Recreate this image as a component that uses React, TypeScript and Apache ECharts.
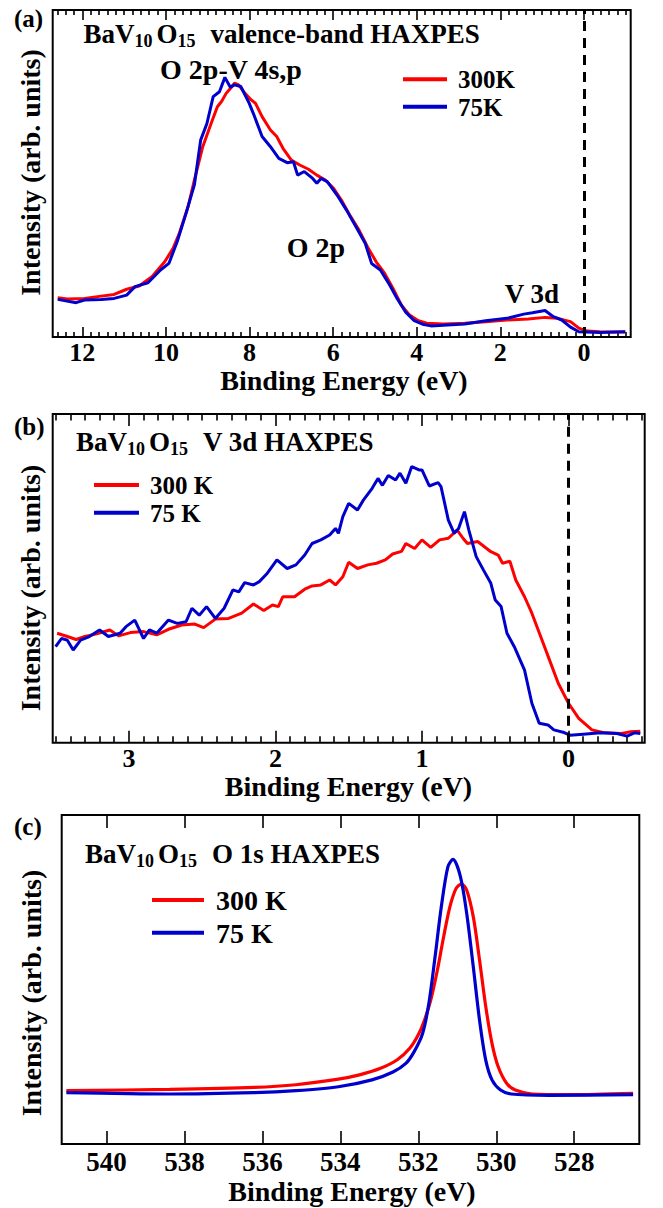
import React, { useEffect, useRef } from "react";
import * as echarts from "echarts";

const FONT = "'Liberation Serif', 'Times New Roman', Times, serif";
const RED = "#ff0000";
const BLUE = "#0000cc";

// ---------- Panel (a): valence-band HAXPES ----------
const aMajorTicks = [0, 2, 4, 6, 8, 10, 12];
const aEnergy300 = [12.59, 12.36, 11.95, 11.55, 11.24, 10.94, 10.64, 10.33, 10.03, 9.83, 9.68, 9.47, 9.32, 9.12, 8.92, 8.77, 8.67, 8.56, 8.46, 8.36, 8.26, 8.11, 7.96, 7.86, 7.7, 7.5, 7.35, 7.2, 7.0, 6.8, 6.59, 6.39, 6.19, 5.99, 5.78, 5.58, 5.38, 5.18, 4.97, 4.77, 4.57, 4.37, 4.17, 3.96, 3.76, 3.36, 2.85, 2.35, 1.84, 1.33, 0.93, 0.63, 0.32, 0.12, -0.08, -0.38, -0.99];
const aInt300 = [12.0, 11.6, 11.8, 12.5, 13.0, 14.6, 15.6, 18.5, 23.0, 27.1, 31.7, 39.9, 48.0, 58.2, 65.3, 70.4, 72.0, 74.5, 76.0, 77.6, 77.1, 74.5, 72.5, 71.5, 67.4, 63.3, 61.3, 57.7, 54.1, 52.6, 51.3, 49.5, 48.0, 45.5, 41.4, 36.8, 32.7, 27.6, 23.0, 19.5, 14.9, 9.8, 6.7, 5.0, 4.2, 4.0, 4.2, 4.7, 5.2, 5.5, 6.0, 5.7, 4.7, 2.7, 1.8, 1.6, 1.5];
const aEnergy75 = [12.59, 12.15, 11.95, 11.55, 11.24, 10.94, 10.74, 10.43, 10.13, 9.93, 9.73, 9.52, 9.32, 9.17, 9.02, 8.87, 8.72, 8.59, 8.46, 8.36, 8.21, 8.01, 7.91, 7.7, 7.5, 7.3, 7.1, 6.95, 6.85, 6.69, 6.49, 6.39, 6.29, 6.14, 5.88, 5.68, 5.43, 5.23, 5.08, 4.87, 4.67, 4.47, 4.27, 4.06, 3.86, 3.66, 3.26, 2.85, 2.35, 1.84, 1.44, 1.23, 0.93, 0.73, 0.53, 0.32, 0.12, -0.38, -0.99];
const aInt75 = [11.5, 10.5, 11.3, 11.5, 11.8, 12.8, 15.4, 16.6, 20.5, 22.5, 29.2, 37.8, 46.5, 60.2, 65.3, 73.5, 75.0, 79.4, 76.4, 77.1, 76.6, 71.5, 68.4, 61.3, 58.2, 54.6, 53.3, 53.6, 49.5, 50.6, 48.5, 47.0, 48.5, 47.5, 42.9, 38.8, 33.2, 28.6, 22.5, 20.5, 16.4, 11.8, 7.7, 5.0, 3.9, 3.4, 3.7, 4.0, 5.0, 5.7, 7.0, 7.4, 8.1, 6.2, 5.2, 3.0, 1.6, 1.4, 1.6];

// ---------- Panel (b): V 3d HAXPES ----------
const bMajorTicks = [0, 1, 2, 3];
const bEnergy300 = [3.49, 3.42, 3.36, 3.3, 3.22, 3.13, 3.07, 2.99, 2.9, 2.81, 2.73, 2.64, 2.55, 2.49, 2.41, 2.32, 2.23, 2.15, 2.08, 2.02, 1.98, 1.95, 1.87, 1.8, 1.75, 1.69, 1.63, 1.59, 1.54, 1.5, 1.44, 1.37, 1.31, 1.25, 1.2, 1.14, 1.11, 1.05, 1.0, 0.94, 0.88, 0.82, 0.76, 0.72, 0.69, 0.62, 0.53, 0.48, 0.45, 0.4, 0.36, 0.3, 0.25, 0.19, 0.13, 0.07, 0.0, -0.07, -0.16, -0.25, -0.36, -0.42, -0.49];
const bInt300 = [33.3, 32.3, 31.4, 32.3, 33.1, 34.3, 32.5, 33.5, 33.8, 32.8, 34.5, 35.8, 36.1, 35.0, 37.6, 37.8, 39.4, 42.2, 40.2, 41.9, 41.4, 44.4, 44.4, 46.7, 47.7, 48.0, 49.5, 48.0, 50.5, 54.9, 53.0, 54.1, 54.6, 55.6, 57.4, 58.2, 60.6, 59.1, 61.7, 59.4, 61.7, 62.2, 64.7, 62.2, 60.6, 61.2, 58.1, 57.1, 54.6, 55.2, 49.5, 44.4, 39.4, 32.3, 25.2, 18.1, 12.0, 7.4, 3.9, 3.0, 2.8, 3.3, 3.5];
const bEnergy75 = [3.5, 3.46, 3.42, 3.38, 3.33, 3.27, 3.2, 3.14, 3.06, 3.02, 2.96, 2.9, 2.86, 2.81, 2.73, 2.67, 2.61, 2.57, 2.52, 2.47, 2.41, 2.35, 2.29, 2.25, 2.21, 2.15, 2.11, 2.06, 1.99, 1.92, 1.86, 1.8, 1.75, 1.69, 1.63, 1.59, 1.57, 1.54, 1.5, 1.44, 1.4, 1.34, 1.3, 1.27, 1.23, 1.18, 1.15, 1.11, 1.07, 1.02, 1.0, 0.95, 0.89, 0.87, 0.82, 0.78, 0.75, 0.71, 0.68, 0.63, 0.58, 0.53, 0.5, 0.46, 0.42, 0.37, 0.3, 0.25, 0.2, 0.14, 0.1, 0.03, -0.01, -0.1, -0.22, -0.33, -0.4, -0.45, -0.49];
const bInt75 = [29.2, 31.7, 31.2, 28.2, 31.2, 32.3, 34.3, 32.3, 33.3, 35.3, 37.3, 31.7, 34.3, 33.3, 37.3, 36.3, 36.8, 40.9, 38.8, 41.4, 37.8, 40.9, 46.5, 45.9, 48.7, 48.0, 49.0, 51.3, 55.6, 53.0, 54.1, 57.1, 60.6, 61.7, 63.2, 65.2, 63.7, 68.8, 72.8, 70.8, 73.8, 77.4, 80.4, 78.3, 81.3, 79.9, 82.0, 78.9, 84.0, 83.0, 83.0, 78.1, 79.1, 77.9, 67.7, 63.7, 65.2, 70.3, 64.7, 56.6, 52.5, 48.5, 43.4, 41.4, 33.3, 29.2, 22.1, 12.0, 5.9, 5.4, 3.9, 3.1, 2.3, 2.6, 3.0, 2.8, 2.0, 3.0, 2.8];

// ---------- Panel (c): O 1s HAXPES ----------
const cMajorTicks = [528, 530, 532, 534, 536, 538, 540];
const cEnergy300 = [541.03, 538.38, 536.22, 535.14, 534.05, 533.51, 532.97, 532.54, 532.22, 532.0, 531.84, 531.68, 531.51, 531.35, 531.19, 531.03, 530.89, 530.76, 530.59, 530.43, 530.27, 530.11, 529.95, 529.73, 529.51, 529.08, 528.11, 526.49];
const cInt300 = [16.2, 16.6, 17.2, 18.0, 19.7, 21.0, 23.0, 25.6, 29.1, 33.2, 37.7, 43.8, 52.9, 63.0, 72.1, 77.7, 79.0, 77.2, 69.1, 56.0, 41.8, 30.6, 23.5, 18.4, 16.4, 15.2, 15.0, 15.4];
const cEnergy75 = [541.03, 538.38, 536.22, 535.14, 534.05, 533.19, 532.65, 532.32, 532.11, 531.89, 531.73, 531.57, 531.41, 531.24, 531.11, 530.92, 530.76, 530.59, 530.43, 530.27, 530.11, 529.89, 529.62, 528.65, 526.49];
const cInt75 = [15.6, 15.2, 15.6, 16.2, 17.4, 19.5, 21.9, 24.5, 28.0, 33.6, 42.7, 56.9, 72.1, 84.3, 86.5, 81.3, 70.2, 53.9, 37.7, 25.5, 19.5, 16.4, 15.2, 14.8, 15.0];

const legendNamesA = ["300K", "75K"];
const legendNamesBC = ["300 K", "75 K"];

function minorTicks(from: number, to: number, step: number, majors: number[]) {
  const out: number[] = [];
  const n = Math.round((to - from) / step);
  for (let i = 0; i <= n; i++) {
    const v = Math.round((from + i * step) * 1000) / 1000;
    if (!majors.some((m) => Math.abs(m - v) < 1e-6)) out.push(v);
  }
  return out;
}

const zip = (xs: number[], ys: number[]) => xs.map((x, i) => [x, ys[i]]);

function xAxesFor(
  grid: number, min: number, max: number, majors: number[], minors: number[],
  majorLen: number, minorLen: number, labelSize: number, labelMargin: number
) {
  const base = {
    gridIndex: grid, type: "value", inverse: true, min, max,
    axisLine: { show: false, onZero: false },
    splitLine: { show: false },
  };
  const tickStyle = { color: "#000", width: 1.6 };
  const label = {
    show: true, customValues: majors, fontSize: labelSize, fontWeight: "bold",
    fontFamily: FONT, color: "#000", margin: labelMargin, lineHeight: labelSize,
  };
  const axes: any[] = [
    { ...base, position: "bottom", axisTick: { show: true, inside: true, length: majorLen, lineStyle: tickStyle, customValues: majors }, axisLabel: label },
    { ...base, position: "top", axisTick: { show: true, inside: true, length: majorLen, lineStyle: tickStyle, customValues: majors }, axisLabel: { show: false } },
  ];
  if (minors.length) {
    axes.push({ ...base, position: "bottom", axisTick: { show: true, inside: true, length: minorLen, lineStyle: tickStyle, customValues: minors }, axisLabel: { show: false } });
    axes.push({ ...base, position: "top", axisTick: { show: true, inside: true, length: minorLen, lineStyle: tickStyle, customValues: minors }, axisLabel: { show: false } });
  }
  return axes;
}

const text = (x: number, y: number, t: string, size: number, extra: any = {}) => ({
  type: "text", x, y, silent: true,
  style: { text: t, fontSize: size, fontWeight: "bold", fontFamily: FONT, fill: "#000", align: extra.align || "left", verticalAlign: "middle" },
});

const vtext = (x: number, y: number, t: string, size: number) => ({
  type: "text", x, y, rotation: Math.PI / 2, silent: true,
  style: { text: t, fontSize: size, fontWeight: "bold", fontFamily: FONT, fill: "#000", align: "center", verticalAlign: "middle" },
});

const titleText = (x: number, top: number, rest: string) => ({
  type: "text", x, y: top, silent: true,
  style: {
    text: `{m|BaV}{s|10}{g|·}{m|O}{s|15}{w|·}{m|${rest}}`,
    align: "left", verticalAlign: "top", fill: "#000",
    rich: {
      m: { fontSize: 27, fontWeight: "bold", fontFamily: FONT, lineHeight: 32, fill: "#000" },
      s: { fontSize: 18, fontWeight: "bold", fontFamily: FONT, lineHeight: 18, padding: [14, 0, 0, 0], fill: "#000" },
      g: { fontSize: 4, width: 4, fill: "rgba(0,0,0,0)" },
      w: { fontSize: 4, width: 15, fill: "rgba(0,0,0,0)" },
    },
  },
});

const legendLine = (x1: number, x2: number, y: number, color: string) => ({
  type: "line", silent: true, shape: { x1, y1: y, x2, y2: y }, style: { stroke: color, lineWidth: 4 },
});

const lineSeries = (name: string, xi: number, yi: number, data: number[][], color: string, width: number, smooth: number | boolean, mark = false) => {
  const s: any = {
    name, type: "line", xAxisIndex: xi, yAxisIndex: yi, data, showSymbol: false, symbol: "none",
    smooth, lineStyle: { color, width }, itemStyle: { color }, z: color === BLUE ? 3 : 2,
  };
  if (mark) {
    s.markLine = {
      silent: true, symbol: "none", label: { show: false },
      lineStyle: { color: "#000", width: 3, type: [10, 7] },
      data: [{ xAxis: 0 }],
    };
  }
  return s;
};

export default function App() {
  const ref = useRef<HTMLDivElement>(null);
  useEffect(() => {
    document.body.style.margin = "0";
    const chart = echarts.init(ref.current!, null, { renderer: "svg" });
    const grids = [
      { left: 52.7, top: 10, width: 578, height: 327 },
      { left: 52.7, top: 414, width: 592, height: 328.7 },
      { left: 61.7, top: 815, width: 577.6, height: 329 },
    ].map((g) => ({ ...g, show: true, borderColor: "#000", borderWidth: 2, backgroundColor: "transparent" }));

    const xAxis = [
      ...xAxesFor(0, -1.12, 12.71, aMajorTicks, minorTicks(-1.0, 12.6, 0.2, aMajorTicks), 10, 5, 26, 2),
      ...xAxesFor(1, -0.52, 3.52, bMajorTicks, minorTicks(-0.5, 3.5, 0.1, bMajorTicks), 12, 6.5, 26, 3),
      ...xAxesFor(2, 526.33, 541.15, cMajorTicks, [], 13, 0, 27, 4),
    ];
    const yAxis = [0, 1, 2].map((g) => ({ gridIndex: g, type: "value", min: 0, max: 100, show: false }));

    const option: any = {
      animation: false,
      backgroundColor: "#fff",
      grid: grids,
      xAxis,
      yAxis,
      series: [
        lineSeries(legendNamesA[0], 0, 0, zip(aEnergy300, aInt300), RED, 3, false, true),
        lineSeries(legendNamesA[1], 0, 0, zip(aEnergy75, aInt75), BLUE, 3, false),
        lineSeries(legendNamesBC[0], 4, 1, zip(bEnergy300, bInt300), RED, 3, false, true),
        lineSeries(legendNamesBC[1], 4, 1, zip(bEnergy75, bInt75), BLUE, 3, false),
        lineSeries(legendNamesBC[0], 8, 2, zip(cEnergy300, cInt300), RED, 3.2, 0.3),
        lineSeries(legendNamesBC[1], 8, 2, zip(cEnergy75, cInt75), BLUE, 3.2, 0.3),
      ],
      graphic: [
        // panel labels
        text(14, 18, "(a)", 25),
        text(14, 426, "(b)", 25),
        text(14, 826, "(c)", 25),
        // y titles
        vtext(30.5, 172.5, "Intensity (arb. units)", 28),
        vtext(30.5, 588, "Intensity (arb. units)", 28),
        vtext(31, 993, "Intensity (arb. units)", 28),
        // x titles
        text(344, 380, "Binding Energy (eV)", 28, { align: "center" }),
        text(348.5, 786, "Binding Energy (eV)", 28, { align: "center" }),
        text(352, 1191, "Binding Energy (eV)", 28, { align: "center" }),
        // titles
        titleText(83.5, 17.5, "valence-band HAXPES"),
        titleText(76, 426, "V 3d HAXPES"),
        titleText(85, 838, "O 1s HAXPES"),
        // annotations (a)
        text(231, 69, "O 2p-V 4s,p", 28, { align: "center" }),
        text(316, 247.5, "O 2p", 28, { align: "center" }),
        text(532, 293.5, "V 3d", 27, { align: "center" }),
        // legend (a)
        legendLine(403, 447, 79.3, RED),
        legendLine(403, 447, 106.7, BLUE),
        text(458, 79.5, legendNamesA[0], 25),
        text(458, 107, legendNamesA[1], 25),
        // legend (b)
        legendLine(94, 139, 485, RED),
        legendLine(94, 139, 512.7, BLUE),
        text(150, 485, legendNamesBC[0], 25),
        text(150, 513, legendNamesBC[1], 25),
        // legend (c)
        legendLine(152, 204, 900, RED),
        legendLine(152, 204, 932.7, BLUE),
        text(216, 900, legendNamesBC[0], 28),
        text(216, 933, legendNamesBC[1], 28),
      ],
    };
    chart.setOption(option);
    return () => chart.dispose();
  }, []);
  return <div ref={ref} style={{ width: 663, height: 1208 }} />;
}
